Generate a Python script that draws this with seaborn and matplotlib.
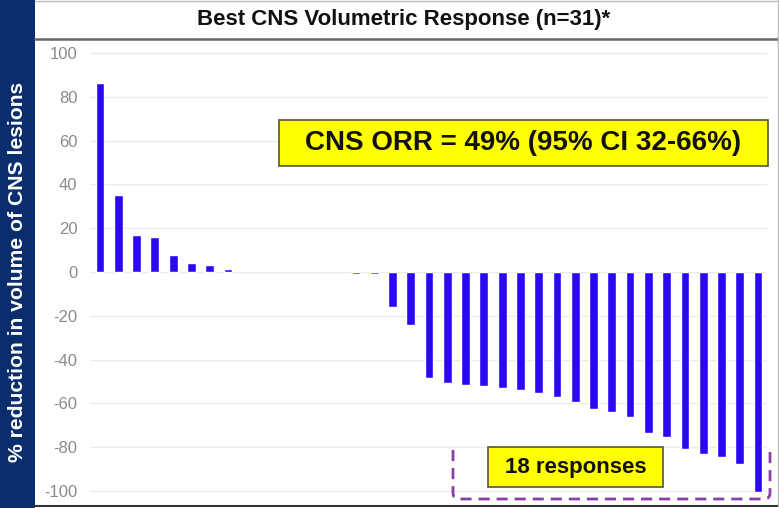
import numpy as np
import pandas as pd
import matplotlib
matplotlib.use("Agg")
import matplotlib.pyplot as plt
import matplotlib.patches as mpatches
import matplotlib.path as mpath
import seaborn as sns

# ---- data ----
title = "Best CNS Volumetric Response (n=31)*"
ylabel = "% reduction in volume of CNS lesions"
orr_text = "CNS ORR = 49% (95% CI 32-66%)"
resp_text = "18 responses"
slots = [f"S{i+1}" for i in range(37)]
values = [86.2, 35.2, 16.9, 15.8, 7.8, 4.3, 3.2, 1.2,
          np.nan, np.nan, np.nan, np.nan, np.nan, np.nan,
          -1.0, -1.0, -15.8, -24.2, -48.2, -50.5, -51.6, -51.9, -53.1,
          -53.9, -55.1, -56.9, -59.4, -62.6, -63.9, -66.1, -73.7, -75.2,
          -81.0, -83.1, -84.3, -87.7, -100.3]
yticks = [-100, -80, -60, -40, -20, 0, 20, 40, 60, 80, 100]

df = pd.DataFrame({"slot": slots, "value": values})

sns.set_theme(style="white")
plt.rcParams['font.family'] = ['Liberation Sans', 'DejaVu Sans']

W, H = 779, 508
fig = plt.figure(figsize=(W / 100, H / 100), dpi=100)

def fx(px):
    return px / W

def fy(py):
    return 1 - py / H

# left navy band
fig.patches.append(mpatches.Rectangle((0, 0), fx(35), 1, transform=fig.transFigure,
                                      facecolor="#0A2D6E", edgecolor="none", zorder=0))
# frame lines
fig.lines.append(plt.Line2D([fx(35), 1], [fy(39), fy(39)], transform=fig.transFigure,
                            color="#666666", lw=1.8))
fig.lines.append(plt.Line2D([fx(35), 1], [fy(1), fy(1)], transform=fig.transFigure,
                            color="#BBBBBB", lw=1.0))
fig.lines.append(plt.Line2D([fx(35), 1], [fy(506), fy(506)], transform=fig.transFigure,
                            color="#333333", lw=1.5))
fig.lines.append(plt.Line2D([fx(778), fx(778)], [fy(0), fy(506)], transform=fig.transFigure,
                            color="#BBBBBB", lw=1.0))

fig.text(fx(404), fy(20), title, ha="center", va="center", fontsize=16,
         fontweight="bold", color="#111111")
fig.text(fx(18), fy(272), ylabel, ha="center", va="center", rotation=90,
         fontsize=15.2, fontweight="bold", color="white")

ax = fig.add_axes([fx(90), fy(500), fx(767) - fx(90), (500 - 45) / H])
sns.barplot(data=df, x="slot", y="value", order=slots, color="#2A08F2",
            saturation=1, width=0.48, ax=ax, errorbar=None)

ax.set_xlim(-0.547, 36.49)
ax.set_ylim(-104.1, 103.7)
ax.set_yticks(yticks)
ax.set_yticklabels([str(t) for t in yticks], fontsize=12, color="#8A8A8A")
ax.tick_params(axis="y", length=0, pad=9)
ax.set_xticks([])
ax.set_xlabel("")
ax.set_ylabel("")
for s in ax.spines.values():
    s.set_visible(False)
ax.grid(axis="y", color="#EBEBEB", lw=1.0)
ax.set_axisbelow(True)
ax.patch.set_alpha(0)

# ORR box
fig.patches.append(mpatches.Rectangle((fx(279), fy(166)), fx(768) - fx(279), fy(120) - fy(166),
                                      transform=fig.transFigure, facecolor="#FFFF00",
                                      edgecolor="#555533", lw=1.2, zorder=1))
fig.text(0.5 * (fx(279) + fx(768)), fy(143), orr_text, ha="center", va="center",
         fontsize=20, fontweight="bold", color="#111111", zorder=3)

# responses box
fig.patches.append(mpatches.Rectangle((fx(488), fy(487)), fx(663) - fx(488), fy(447) - fy(487),
                                      transform=fig.transFigure, facecolor="#FFFF00",
                                      edgecolor="#555533", lw=1.2, zorder=1))
fig.text(0.5 * (fx(488) + fx(663)), fy(467), resp_text, ha="center", va="center",
         fontsize=16, fontweight="bold", color="#111111", zorder=3)

# dashed bracket
x0, x1, yt, yb, r = 453, 770, 450, 499, 6
verts = [(x0, yt), (x0, yb - r), (x0, yb), (x0 + r, yb), (x1 - r, yb), (x1, yb), (x1, yb - r), (x1, yt)]
codes = [mpath.Path.MOVETO, mpath.Path.LINETO, mpath.Path.CURVE3, mpath.Path.CURVE3,
         mpath.Path.LINETO, mpath.Path.CURVE3, mpath.Path.CURVE3, mpath.Path.LINETO]
verts = [(fx(a), fy(b)) for a, b in verts]
fig.patches.append(mpatches.PathPatch(mpath.Path(verts, codes), transform=fig.transFigure,
                                      facecolor="none", edgecolor="#8A3FA8", lw=2.0,
                                      linestyle=(0, (4, 2.5)), zorder=4))

fig.savefig("out.png", dpi=100)
